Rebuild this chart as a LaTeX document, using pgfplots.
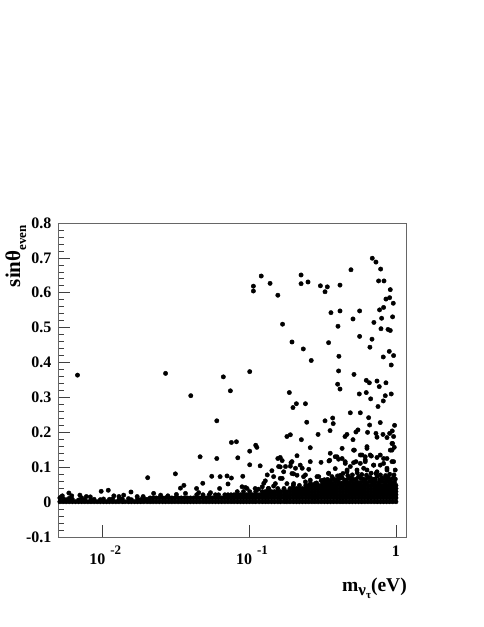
\documentclass[border=0pt]{standalone}
\usepackage{fontspec}
\setmainfont{Liberation Serif}
\usepackage{pgfplots}
\pgfplotsset{compat=1.18}
% resolved points
\pgfplotstableread{
m y
.690 .699
.731 .688
.787 .668
.494 .666
.762 .634
.829 .634
.121 .648
.226 .651
.226 .626
.252 .631
.139 .627
.107 .619
.107 .605
.157 .593
.306 .620
.341 .617
.329 .603
.416 .622
.915 .609
.855 .582
.906 .586
.959 .570
.774 .551
.824 .558
.361 .543
.416 .548
.566 .548
.949 .531
.799 .527
.708 .515
.510 .525
.169 .510
.403 .504
.791 .497
.883 .495
.915 .492
.566 .475
.687 .467
.196 .459
.348 .457
.234 .439
.665 .444
.265 .406
.409 .418
.901 .432
.820 .416
.964 .420
.929 .393
.101 .374
.407 .376
.518 .366
.628 .349
.659 .342
.743 .347
.855 .342
.401 .338
.770 .331
.416 .324
.188 .314
.563 .310
.628 .314
.929 .310
.846 .305
.673 .296
.820 .290
.210 .282
.242 .282
.199 .271
.755 .274
.0746 .319
.00679 .364
.0270 .369
.0668 .359
.0401 .305
.489 .256
.572 .256
.247 .229
.329 .233
.371 .241
.374 .225
.356 .205
.295 .194
.191 .193
.181 .188
.227 .179
.261 .156
.113 .157
.111 .163
.101 .146
.082 .173
.0758 .171
.0838 .127
.101 .107
.119 .104
.0906 .074
.0758 .069
.652 .242
.662 .221
.782 .228
.979 .220
.551 .207
.534 .201
.464 .194
.450 .188
.510 .179
.641 .200
.731 .197
.743 .186
.816 .194
.906 .197
.944 .204
.964 .188
.869 .185
.949 .168
.974 .157
.915 .149
.430 .154
.521 .149
.635 .154
.357 .140
.587 .135
.618 .130
.680 .132
.743 .128
.824 .125
.163 .128
.157 .125
.212 .133
.168 .119
.386 .130
.407 .123
.261 .116
.309 .114
.350 .118
.196 .116
.159 .102
.177 .102
.191 .103
.207 .097
.172 .087
.143 .090
.133 .078
.129 .061
.147 .073
.168 .068
.201 .081
.230 .097
.255 .094
.242 .078
.290 .073
.348 .083
.451 .116
.534 .116
.618 .121
.705 .106
.782 .106
.964 .116
.489 .102
.464 .087
.603 .097
.869 .097
.0944 .042
.116 .037
.126 .054
.147 .046
.0603 .233
.0464 .130
.0603 .125
.0204 .070
.0315 .081
.0557 .074
.0635 .073
.0708 .075
.0360 .048
.0341 .040
.0484 .054
.0719 .052
.0630 .039
.0439 .039
.0110 .034
.00984 .031
.0157 .029
.00593 .026
.00705 .020
.0224 .025
.0140 .020
.00535 .018
.0369 .025
.0454 .027
.0546 .027
.0173 .016
.223 .106
.193 .113
.163 .101
.163 .068
.196 .082
.212 .077
.235 .073
.242 .058
.201 .053
.181 .053
.151 .053
.354 .120
.397 .130
.430 .125
.515 .149
.635 .159
.940 .168
.940 .149
.572 .135
.668 .135
.782 .135
.869 .125
.572 .111
.515 .113
.452 .111
.386 .096
.348 .082
.298 .073
.261 .063
.618 .116
.705 .106
.824 .111
.940 .116
.989 .092
.869 .092
.743 .087
.635 .092
.543 .092
.465 .092
.418 .077
.367 .073
.322 .063
.282 .053
.0896 .044
.0969 .039
.110 .039
.123 .044
.136 .039
.0320 .022
.0280 .018
.0250 .020
.0190 .016
.0130 .016
.0120 .018
.0083 .015
.0078 .016
.0062 .018
}\sparsepts
\begin{document}
\begin{tikzpicture}[x=1pt,y=1pt]
\path[use as bounding box] (0,0) rectangle (484,627);
\begin{axis}[
  at={(58pt,90pt)}, anchor=south west,
  scale only axis, width=348.5pt, height=314pt,
  xmode=log, log basis x=10,
  xmin=0.005, xmax=1.18, ymin=-0.1, ymax=0.8,
  xtick={0.01,0.1,1},
  xticklabels={10\hspace{5pt}\raisebox{10pt}{\fontsize{13}{13}\selectfont -2},10\hspace{5pt}\raisebox{10pt}{\fontsize{13}{13}\selectfont -1},\hspace{-6pt}1},
  ytick={-0.1,0,0.1,0.2,0.3,0.4,0.5,0.6,0.7,0.8},
  yticklabels={-0.1,0,0.1,0.2,0.3,0.4,0.5,0.6,0.7,0.8},
  minor y tick num=4,
  tick align=inside, xtick pos=bottom, ytick pos=left,
  major tick length=12pt, minor tick length=6.5pt,
  every tick/.style={black!75,line width=0.7pt},
  axis line style={black!60,line width=0.9pt},
  tick label style={font=\bfseries\fontsize{16}{16}\selectfont},
  xticklabel style={yshift=-5pt,xshift=3pt},
  yticklabel style={xshift=-3pt},
  clip=false,
]
\addplot[only marks,mark=*,mark size=2.2pt,black,mark options={draw=black}] table[x=m,y=y] {\sparsepts};
% unresolved black band along the bottom, estimated on a grid
\addplot[only marks,mark=*,mark size=2.2pt,black] coordinates {
(1,.001)(.952,.001)(.907,.001)(.864,.001)(.823,.001)(.784,.001)(.746,.001)(.711,.001)(.677,.001)(.645,.001)(.614,.001)(.585,.001)(.557,.001)(.530,.001)(.505,.001)(.481,.001)(.458,.001)(.436,.001)(.416,.001)(.396,.001)(.377,.001)(.359,.001)(.342,.001)(.326,.001)(.310,.001)(.295,.001)(.281,.001)(.268,.001)(.255,.001)(.243,.001)(.231,.001)(.220,.001)(.210,.001)(.200,.001)(.190,.001)(.181,.001)(.173,.001)(.164,.001)(.157,.001)(.149,.001)(.142,.001)(.135,.001)(.129,.001)(.123,.001)(.117,.001)(.111,.001)(.106,.001)(.101,.001)(.0962,.001)(.0916,.001)(.0873,.001)(.0831,.001)(.0791,.001)(.0754,.001)(.0718,.001)(.0684,.001)(.0651,.001)(.0620,.001)(.0590,.001)(.0562,.001)(.0535,.001)(.0510,.001)(.0486,.001)(.0462,.001)(.0440,.001)(.0419,.001)(.0399,.001)(.0380,.001)(.0362,.001)(.0345,.001)(.0329,.001)(.0313,.001)(.0298,.001)(.0284,.001)(.0270,.001)(.0258,.001)(.0245,.001)(.0233,.001)(.0222,.001)(.0212,.001)(.0202,.001)(.0192,.001)(.0183,.001)(.0174,.001)(.0166,.001)(.0158,.001)(.0151,.001)(.0143,.001)(.0137,.001)(.0130,.001)(.0124,.001)(.0118,.001)(.0112,.001)(.0107,.001)(.0102,.001)(.00971,.001)(.00925,.001)(.00881,.001)(.00839,.001)(.00799,.001)(.00761,.001)(.00725,.001)(.00690,.001)(.00657,.001)(.00626,.001)(.00596,.001)(.00568,.001)(.00541,.001)(.00515,.001)
(.00515,.012)(.00541,.010)(.00568,.007)(.00596,.011)(.00626,.008)(.00690,.006)(.00725,.012)(.00761,.007)(.00839,.006)(.00881,.008)(.00971,.007)(.0102,.009)(.0112,.008)(.0118,.009)(.0130,.007)(.0137,.009)(.0151,.010)(.0158,.007)(.0174,.009)(.0183,.007)(.0192,.010)(.0202,.008)
(1,.012)(.952,.012)(.907,.012)(.864,.012)(.823,.012)(.784,.012)(.746,.012)(.711,.012)(.677,.012)(.645,.012)(.614,.012)(.585,.012)(.557,.012)(.530,.012)(.505,.012)(.481,.012)(.458,.012)(.436,.012)(.416,.012)(.396,.012)(.377,.012)(.359,.012)(.342,.012)(.326,.012)(.310,.012)(.295,.012)(.281,.012)(.268,.012)(.255,.012)(.243,.012)(.231,.012)(.220,.012)(.210,.012)(.200,.012)(.190,.012)(.181,.012)(.173,.012)(.164,.012)(.157,.012)(.149,.012)(.142,.012)(.135,.012)(.129,.012)(.123,.012)(.117,.012)(.111,.012)(.106,.012)(.101,.012)(.0962,.012)(.0916,.012)(.0873,.012)(.0831,.012)(.0791,.012)(.0754,.012)(.0718,.012)(.0684,.012)(.0651,.012)(.0620,.012)(.0590,.012)(.0562,.012)(.0535,.012)(.0510,.012)(.0486,.012)(.0462,.012)(.0440,.012)(.0419,.012)(.0399,.012)(.0380,.012)(.0362,.012)(.0345,.012)(.0329,.012)(.0313,.012)(.0298,.012)(.0284,.012)(.0270,.012)(.0258,.012)(.0245,.012)(.0233,.012)(.0222,.012)(.0212,.012)
(1,.021)(.952,.021)(.907,.021)(.864,.021)(.823,.021)(.784,.021)(.746,.021)(.711,.021)(.677,.021)(.645,.021)(.614,.021)(.585,.021)(.557,.021)(.530,.021)(.505,.021)(.481,.021)(.458,.021)(.436,.021)(.416,.021)(.396,.021)(.377,.021)(.359,.021)(.342,.021)(.326,.021)(.310,.021)(.295,.021)(.281,.021)(.268,.021)(.255,.021)(.243,.021)(.231,.021)(.220,.021)(.210,.021)(.200,.021)(.190,.021)(.181,.021)(.173,.021)(.164,.021)(.157,.021)(.149,.021)(.142,.021)(.135,.021)(.129,.021)(.123,.021)(.117,.021)(.111,.021)(.106,.021)(.101,.021)(.0962,.021)(.0916,.021)(.0873,.021)(.0831,.021)(.0791,.021)(.0754,.021)(.0718,.021)(.0684,.021)(.0620,.021)(.0590,.021)(.0535,.021)(.0486,.021)(.0440,.021)
(1,.030)(.952,.030)(.907,.030)(.864,.030)(.823,.030)(.784,.030)(.746,.030)(.711,.030)(.677,.030)(.645,.030)(.614,.030)(.585,.030)(.557,.030)(.530,.030)(.505,.030)(.481,.030)(.458,.030)(.436,.030)(.416,.030)(.396,.030)(.377,.030)(.359,.030)(.342,.030)(.326,.030)(.310,.030)(.295,.030)(.281,.030)(.268,.030)(.255,.030)(.243,.030)(.231,.030)(.220,.030)(.210,.030)(.200,.030)(.190,.030)(.181,.030)(.173,.030)(.164,.030)(.157,.030)(.149,.030)(.142,.030)(.135,.030)(.129,.030)(.123,.030)(.111,.030)(.101,.030)(.0916,.030)(.0831,.030)
(1,.039)(.952,.039)(.907,.039)(.864,.039)(.823,.039)(.784,.039)(.746,.039)(.711,.039)(.677,.039)(.645,.039)(.614,.039)(.585,.039)(.557,.039)(.530,.039)(.505,.039)(.481,.039)(.458,.039)(.436,.039)(.416,.039)(.396,.039)(.377,.039)(.359,.039)(.342,.039)(.326,.039)(.310,.039)(.295,.039)(.281,.039)(.268,.039)(.255,.039)(.243,.039)(.231,.039)(.220,.039)(.210,.039)(.200,.039)(.190,.039)(.173,.039)(.157,.039)(.135,.039)
(1,.048)(.952,.048)(.907,.048)(.864,.048)(.823,.048)(.784,.048)(.746,.048)(.711,.048)(.677,.048)(.645,.048)(.614,.048)(.585,.048)(.557,.048)(.530,.048)(.505,.048)(.481,.048)(.458,.048)(.436,.048)(.416,.048)(.396,.048)(.377,.048)(.359,.048)(.342,.048)(.326,.048)(.310,.048)(.295,.048)(.281,.048)(.268,.048)(.255,.048)(.243,.048)(.220,.048)(.200,.048)
(.977,.057)(.930,.055)(.885,.058)(.843,.056)(.803,.059)(.765,.055)(.728,.058)(.694,.056)(.661,.059)(.629,.055)(.599,.058)(.571,.056)(.543,.057)(.517,.054)(.493,.058)(.469,.055)(.447,.057)(.426,.054)(.406,.056)(.386,.058)(.368,.054)(.350,.057)(.334,.055)(.318,.056)(.288,.055)(.262,.054)
(.990,.066)(.952,.068)(.918,.064)(.885,.072)(.864,.064)(.830,.067)(.803,.069)(.775,.064)(.746,.074)(.720,.066)(.694,.065)(.668,.071)(.645,.070)(.620,.064)(.599,.066)(.578,.068)(.557,.073)(.537,.066)(.517,.064)(.499,.069)(.481,.069)(.463,.064)(.447,.063)(.430,.070)(.416,.068)(.400,.063)(.386,.064)(.372,.067)(.359,.062)(.342,.065)(.326,.064)(.310,.062)
(.970,.078)(.907,.080)(.850,.076)(.784,.078)(.730,.082)(.677,.083)(.630,.077)(.585,.079)(.545,.084)(.505,.078)(.470,.076)(.436,.082)(.400,.075)
};
\end{axis}
\node[rotate=90,inner sep=0pt,anchor=base east,font=\bfseries\fontsize{21}{21}\selectfont] at (20,402) {sinθ\raisebox{-6pt}{\fontsize{13}{13}\selectfont even}};
\node[inner sep=0pt,anchor=base east,font=\bfseries\fontsize{19.5}{19.5}\selectfont] at (407,35) {m\raisebox{-4pt}{\fontsize{17}{17}\selectfont ν\raisebox{-3pt}{\fontsize{11}{11}\selectfont τ}}(eV)};
\end{tikzpicture}
\end{document}
